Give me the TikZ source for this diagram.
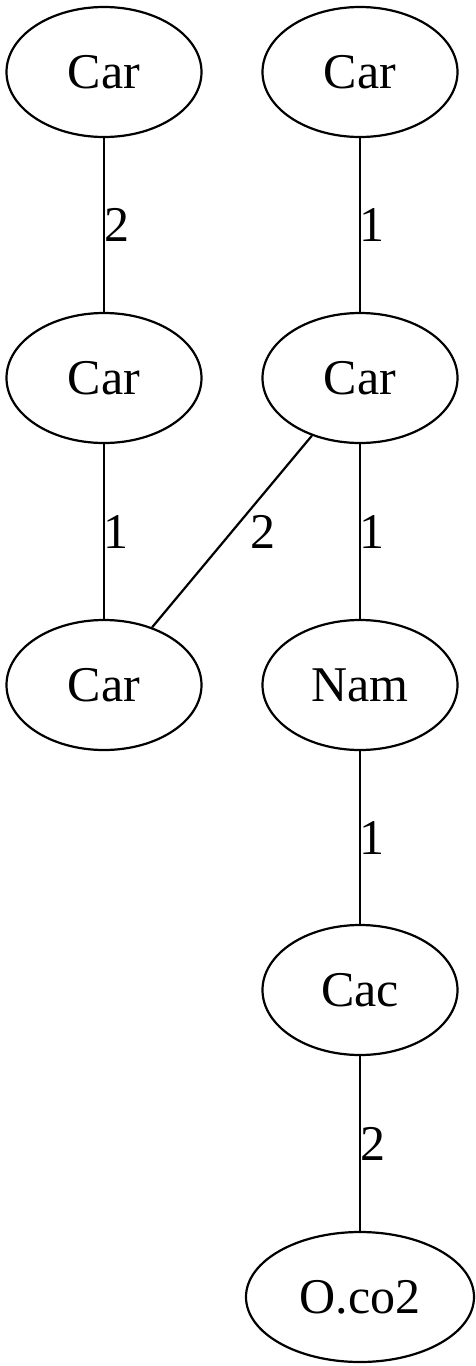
\documentclass[tikz,border=0pt]{standalone}
\usepackage{fontspec}
\setmainfont{Liberation Serif}
\usetikzlibrary{shapes.geometric}
\begin{document}
\begin{tikzpicture}[x=1pt,y=-1pt,
  atom/.style={draw, ellipse, line width=2.2pt, minimum width=195pt, minimum height=130pt, inner sep=0pt, font=\fontsize{50}{60}\selectfont},
  bond/.style={line width=2.2pt},
  lab/.style={font=\fontsize{50}{60}\selectfont, inner sep=0pt}]
\useasboundingbox (0,0) rectangle (475,1366);
\node[atom] (a1) at (104,72) {Car};
\node[atom] (b1) at (360,72) {Car};
\node[atom] (a2) at (104,378) {Car};
\node[atom] (b2) at (360,378) {Car};
\node[atom] (a3) at (104,685) {Car};
\node[atom] (b3) at (360,685) {Nam};
\node[atom] (b4) at (360,990) {Cac};
\node[atom, minimum width=228pt] (b5) at (360,1297) {O.co2};
\draw[bond] (a1) -- node[lab, midway, xshift=13pt] {2} (a2);
\draw[bond] (b1) -- node[lab, midway, xshift=12pt] {1} (b2);
\draw[bond] (a2) -- node[lab, midway, xshift=12pt] {1} (a3);
\draw[bond] (b2) -- node[lab, midway, xshift=31pt] {2} (a3);
\draw[bond] (b2) -- node[lab, midway, xshift=12pt] {1} (b3);
\draw[bond] (b3) -- node[lab, midway, xshift=12pt] {1} (b4);
\draw[bond] (b4) -- node[lab, midway, xshift=13pt] {2} (b5);
\end{tikzpicture}
\end{document}
